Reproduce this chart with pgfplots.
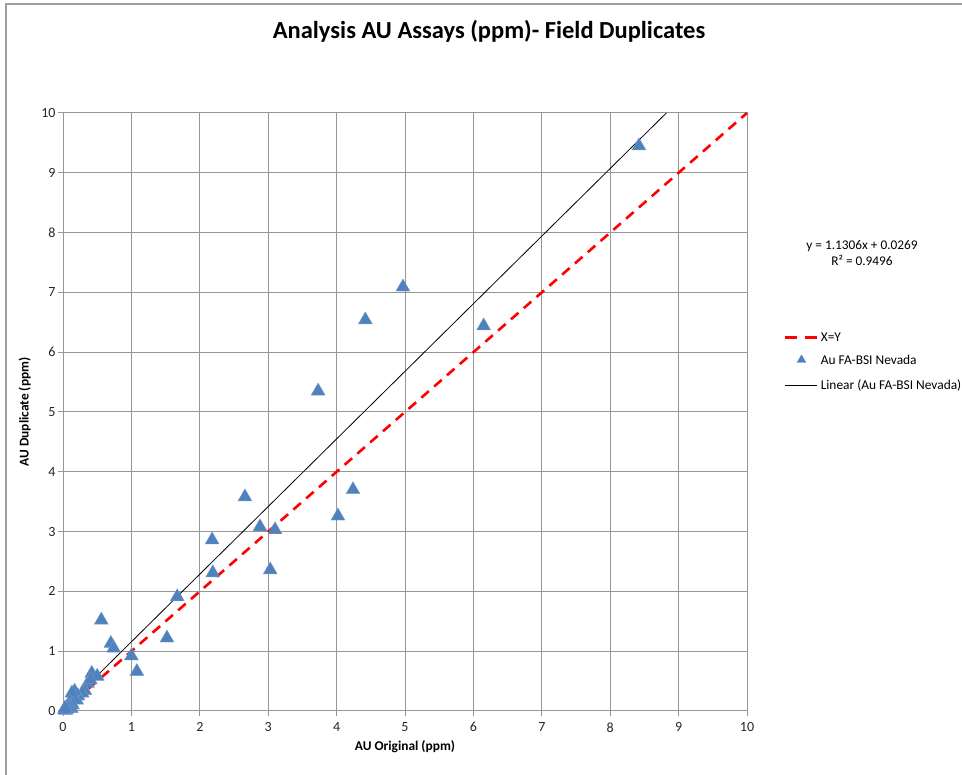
\documentclass[border=0pt]{standalone}
\usepackage{fontspec}
\setmainfont{Carlito}
\usepackage{pgfplots}
\pgfplotsset{compat=1.18}
\definecolor{auBlue}{HTML}{4F81BD}
\definecolor{gridGray}{HTML}{969696}
\pgfplotsset{
    markleg/.style={legend image code/.code={\draw[##1] plot coordinates {(16pt,1pt)};}},
    lineleg/.style={legend image code/.code={\draw[##1] (0pt,0pt) -- (32pt,0pt);}},
}

\begin{document}
\begin{tikzpicture}[x=1pt,y=1pt]
\path[use as bounding box] (0,0) rectangle (962,775);
\draw[gray!75, line width=1.2pt] (6,0) -- (6,771) -- (962,771);
\node[font=\fontsize{24.5}{28}\selectfont\bfseries] at (489,744) {Analysis AU Assays (ppm)- Field Duplicates};
\begin{axis}[
    at={(63pt,64pt)}, anchor=south west,
    scale only axis, width=684pt, height=598pt,
    xmin=0, xmax=10, ymin=0, ymax=10,
    xtick={0,1,...,10}, ytick={0,1,...,10},
    xtick pos=left, ytick pos=left,
    tick align=outside, major tick length=5pt,
    grid=major,
    grid style={gridGray, line width=1pt},
    axis line style={gridGray, line width=1pt},
    tick style={gridGray, line width=1pt},
    ticklabel style={font=\fontsize{14}{16}\selectfont, text=black!85},
    xticklabel style={yshift=-3pt},
    yticklabel style={xshift=1pt},
    /pgf/number format/assume math mode=true,
    xlabel={AU Original (ppm)},
    ylabel={AU Duplicate (ppm)},
    label style={font=\fontsize{13.4}{16}\selectfont\bfseries},
    xlabel style={at={(axis description cs:0.5,-0.060)}, anchor=center},
    ylabel style={at={(axis description cs:-0.0560,0.5)}, anchor=center},
    clip=false,
    legend cell align=left,
    legend style={at={(1.0497,0.640)}, anchor=north west, draw=none, fill=none,
        font=\fontsize{13.4}{16}\selectfont, row sep=9pt},
]
% legend entries
\addlegendimage{lineleg, red, line width=2.6pt, dash pattern=on 12pt off 8pt}
\addlegendentry{X=Y}
\addlegendimage{markleg, only marks, mark=triangle*, mark size=5pt, color=auBlue}
\addlegendentry{Au FA-BSI Nevada}
\addlegendimage{lineleg, black, line width=0.8pt}
\addlegendentry{Linear (Au FA-BSI Nevada)}

% X=Y line
\addplot[forget plot, red, line width=2.6pt, dash pattern=on 10pt off 7pt]
    coordinates {(0,0) (10,10)};

% field duplicates
\addplot[forget plot, only marks, mark=triangle*, mark size=8pt,
    mark options={fill=auBlue, draw=auBlue!80!white, line width=0.4pt}]
    coordinates {
    (8.42,9.45) (4.97,7.09) (4.42,6.54) (6.15,6.44) (3.73,5.35)
    (4.24,3.70) (4.02,3.26) (2.66,3.58) (2.88,3.08) (3.10,3.03)
    (3.03,2.36) (2.18,2.86) (2.19,2.31) (1.67,1.91) (1.52,1.22)
    (0.56,1.52) (0.70,1.13) (0.74,1.05) (1.00,0.92) (1.08,0.66)
    (0.42,0.63) (0.50,0.58) (0.36,0.46) (0.40,0.52) (0.32,0.34)
    (0.28,0.30) (0.22,0.25) (0.20,0.18) (0.16,0.20) (0.17,0.33)
    (0.13,0.30) (0.10,0.15) (0.14,0.10) (0.12,0.04) (0.10,0.08)
    (0.08,0.06) (0.06,0.03) (0.04,0.01) (0.02,0.02) (0.03,0.05)
    };

% linear trend line y = 1.1306x + 0.0269
\addplot[forget plot, black, line width=0.8pt]
    coordinates {(0,0.0269) (8.821,10)};
\end{axis}
\node[font=\fontsize{13.3}{16}\selectfont] at (862,529) {y = 1.1306x + 0.0269};
\node[font=\fontsize{13.3}{16}\selectfont] at (862,515) {R² = 0.9496};
\end{tikzpicture}
\end{document}
